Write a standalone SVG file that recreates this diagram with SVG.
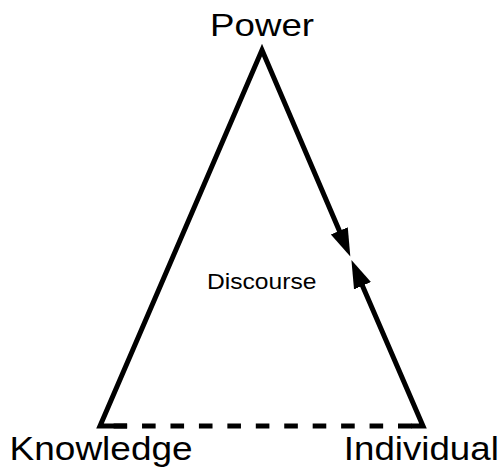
<svg xmlns="http://www.w3.org/2000/svg" width="499" height="472" viewBox="0 0 499 472">
<defs>
<style>
.edge{fill:none;stroke:#000;stroke-width:5;stroke-linejoin:miter;stroke-linecap:butt}
.dash{stroke-dasharray:13.6 14.84}
.lbl{font-family:"Liberation Sans",Arial,sans-serif;fill:#000}
</style>
<marker id="ah" markerUnits="userSpaceOnUse" markerWidth="32" markerHeight="22" viewBox="0 -11 32 22" refX="2" refY="0" orient="auto">
<path d="M0,-9.2 L28,0 L0,9.2 z" fill="#000"/>
</marker>
</defs>
<rect width="499" height="472" fill="#fff"/>
<g id="connectors">
<path class="edge" d="M127,426 L100,426 L262,50 L340.1,232.6" marker-end="url(#ah)"/>
<path class="edge" d="M411,426 L423,426 L361.7,283.9" marker-end="url(#ah)"/>
<path class="edge dash" d="M113.6,426 L411.5,426"/>
</g>
<g id="power"><text class="lbl" x="262" y="35.5" font-size="32" text-anchor="middle" textLength="104" lengthAdjust="spacingAndGlyphs">Power</text></g>
<g id="knowledge"><text class="lbl" x="9.6" y="459.5" font-size="33" textLength="183" lengthAdjust="spacingAndGlyphs">Knowledge</text></g>
<g id="individual"><text class="lbl" x="343.8" y="459.5" font-size="33" textLength="155" lengthAdjust="spacingAndGlyphs">Individual</text></g>
<g id="discourse"><text class="lbl" x="261.7" y="289" font-size="22" text-anchor="middle" textLength="109.5" lengthAdjust="spacingAndGlyphs">Discourse</text></g>
</svg>
